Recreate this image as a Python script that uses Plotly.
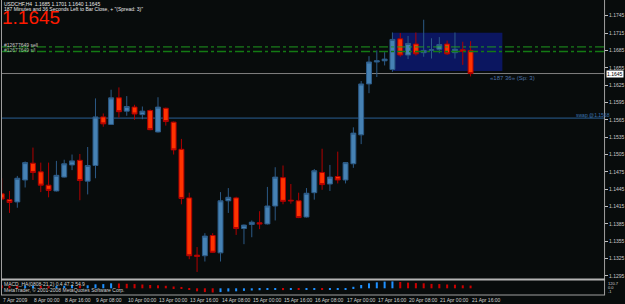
import plotly.graph_objects as go

W, H = 625, 304

# ---------------- data (USDCHF, H4) ----------------
bar_index = list(range(61))
opens = [1.1437, 1.1427, 1.1423, 1.1461, 1.1490, 1.1475, 1.1452, 1.1442, 1.1466, 1.1487,
         1.1495, 1.1459, 1.1486, 1.1570, 1.1557, 1.1603, 1.1580, 1.1587, 1.1574, 1.1581,
         1.1544, 1.1585, 1.1561, 1.1514, 1.1430, 1.1331, 1.1330, 1.1365, 1.1335, 1.1425,
         1.1430, 1.1377, 1.1384, 1.1387, 1.1385, 1.1416, 1.1465, 1.1426, 1.1425, 1.1397,
         1.1439, 1.1474, 1.1454, 1.1467, 1.1461, 1.1489, 1.1539, 1.1627, 1.1665, 1.1667,
         1.1652, 1.1705, 1.1677, 1.1696, 1.1681, 1.1685, 1.1687, 1.1696, 1.1681, 1.1686,
         1.1685]
highs = [1.1464, 1.1442, 1.1468, 1.1493, 1.1517, 1.1491, 1.1491, 1.1494, 1.1496, 1.1505,
         1.1506, 1.1518, 1.1602, 1.1576, 1.1617, 1.1621, 1.1606, 1.1591, 1.1588, 1.1583,
         1.1604, 1.1586, 1.1562, 1.1532, 1.1439, 1.1345, 1.1369, 1.1369, 1.1440, 1.1447,
         1.1432, 1.1384, 1.1391, 1.1407, 1.1449, 1.1483, 1.1486, 1.1454, 1.1439, 1.1447,
         1.1480, 1.1515, 1.1487, 1.1510, 1.1492, 1.1552, 1.1632, 1.1675, 1.1685, 1.1682,
         1.1716, 1.1715, 1.1710, 1.1716, 1.1738, 1.1706, 1.1708, 1.1702, 1.1716, 1.1700,
         1.1701]
lows = [1.1426, 1.1404, 1.1413, 1.1448, 1.1461, 1.1440, 1.1431, 1.1441, 1.1465, 1.1478,
        1.1426, 1.1436, 1.1464, 1.1553, 1.1556, 1.1569, 1.1572, 1.1565, 1.1566, 1.1547,
        1.1543, 1.1555, 1.1505, 1.1419, 1.1324, 1.1302, 1.1320, 1.1335, 1.1320, 1.1404,
        1.1366, 1.1350, 1.1362, 1.1376, 1.1384, 1.1391, 1.1419, 1.1420, 1.1395, 1.1396,
        1.1427, 1.1444, 1.1442, 1.1455, 1.1455, 1.1482, 1.1523, 1.1611, 1.1639, 1.1659,
        1.1648, 1.1674, 1.1670, 1.1676, 1.1674, 1.1671, 1.1680, 1.1677, 1.1671, 1.1660,
        1.1640]
closes = [1.1428, 1.1422, 1.1464, 1.1491, 1.1474, 1.1452, 1.1443, 1.1469, 1.1489, 1.1494,
          1.1460, 1.1486, 1.1570, 1.1558, 1.1603, 1.1579, 1.1588, 1.1575, 1.1580, 1.1548,
          1.1587, 1.1562, 1.1513, 1.1429, 1.1330, 1.1329, 1.1364, 1.1336, 1.1425, 1.1431,
          1.1377, 1.1383, 1.1388, 1.1385, 1.1416, 1.1466, 1.1424, 1.1425, 1.1396, 1.1438,
          1.1477, 1.1453, 1.1466, 1.1461, 1.1491, 1.1542, 1.1627, 1.1665, 1.1667, 1.1670,
          1.1704, 1.1677, 1.1697, 1.1679, 1.1685, 1.1686, 1.1695, 1.1679, 1.1687, 1.1683,
          1.1645]

# indicator histogram (sub-window)
indicator = [3.0, 2.5, 2.2, 2.6, 2.8, 2.4, 2.0, 2.2, 2.6, 3.0,
             2.8, 3.0, 4.0, 4.2, 5.0, 4.8, 4.5, 4.2, 3.8, 3.3,
             3.0, 2.5, 1.8, 0.5, -1.5, -3.0, -3.8, -4.2, -3.8, -3.2,
             -3.0, -2.6, -2.2, -1.9, -1.5, -1.0, -1.8, -1.6, -1.6, -1.4,
             -1.2, -1.2, -1.1, -1.0, -0.8, 1.5, 3.3, 5.0, 6.0, 6.7,
             6.9, 6.3, 5.7, 5.2, 5.0, 4.4, 4.2, 3.8, 3.6, 3.0, 2.7]

price_ticks = [1.1295, 1.1325, 1.1355, 1.1385, 1.1415, 1.1445, 1.1475, 1.1505,
               1.1535, 1.1565, 1.1595, 1.1625, 1.1655, 1.1685, 1.1715, 1.1745]
time_tick_index = [0, 4, 8, 12, 16, 20, 24, 28, 32, 36, 40, 44, 48, 52, 56, 60]
time_tick_labels = ["7 Apr 2009", "8 Apr 00:00", "8 Apr 16:00", "9 Apr 08:00",
                    "10 Apr 00:00", "13 Apr 00:00", "13 Apr 16:00", "14 Apr 08:00",
                    "15 Apr 00:00", "15 Apr 16:00", "16 Apr 08:00", "17 Apr 00:00",
                    "17 Apr 16:00", "20 Apr 08:00", "21 Apr 00:00", "21 Apr 16:00"]

bid_price = 1.1645
order_price = 1.1683
sl_price = 1.1691
swap_price = 1.1568
box_x = [50, 64.07]
box_y = [1.16494, 1.17156]
countdown_pos = (62.3, 1.1637)

# ---------------- helpers ----------------
def px_x(p):
    return p / W

def px_y(p):
    return 1 - p / H

BG = "#080c0c"
FONT = "Liberation Sans, Arial, sans-serif"

fig = go.Figure()

fig.add_trace(go.Candlestick(
    x=bar_index, open=opens, high=highs, low=lows, close=closes,
    increasing=dict(line=dict(color="#2c5a86", width=1), fillcolor="#4682b4"),
    decreasing=dict(line=dict(color="#b00000", width=1), fillcolor="#ff3300"),
    xaxis="x", yaxis="y", showlegend=False, hoverinfo="skip",
))

ind_colors = []
for i, v in enumerate(indicator):
    prev = indicator[i - 1] if i > 0 else v
    ind_colors.append("#1e90ff" if v > prev else "#cc0000")

fig.add_trace(go.Bar(
    x=bar_index, y=indicator, marker=dict(color=ind_colors, line=dict(width=0)),
    width=0.26, xaxis="x2", yaxis="y2", showlegend=False, hoverinfo="skip",
))

x_range = [-0.09, 77.08]
shapes = []
# rectangle (object)
shapes.append(dict(type="rect", xref="x", yref="y", x0=box_x[0], x1=box_x[1],
                   y0=box_y[0], y1=box_y[1], fillcolor="#0b1660",
                   line=dict(width=0), layer="below"))
# horizontal lines
shapes.append(dict(type="line", xref="paper", yref="y", x0=px_x(1), x1=px_x(606),
                   y0=bid_price, y1=bid_price, line=dict(color="#808080", width=1), layer="below"))
shapes.append(dict(type="line", xref="paper", yref="y", x0=px_x(1), x1=px_x(606),
                   y0=swap_price, y1=swap_price, line=dict(color="#2a5f94", width=1), layer="below"))
shapes.append(dict(type="line", xref="paper", yref="y", x0=px_x(1), x1=px_x(606),
                   y0=sl_price, y1=sl_price, line=dict(color="#1f9a1f", width=1, dash="dashdot")))
shapes.append(dict(type="line", xref="paper", yref="y", x0=px_x(1), x1=px_x(606),
                   y0=order_price, y1=order_price, line=dict(color="#137a13", width=1.5, dash="dashdot")))
# frame
frame = "#a0a0a0"
shapes += [
    dict(type="line", xref="paper", yref="paper", x0=px_x(1.5), x1=px_x(1.5), y0=px_y(0), y1=px_y(295),
         line=dict(color=frame, width=1)),
    dict(type="line", xref="paper", yref="paper", x0=px_x(606.5), x1=px_x(606.5), y0=px_y(0), y1=px_y(295),
         line=dict(color=frame, width=1)),
    dict(type="line", xref="paper", yref="paper", x0=px_x(1), x1=px_x(607), y0=px_y(279.5), y1=px_y(279.5),
         line=dict(color="#b4b4b4", width=2)),
    dict(type="line", xref="paper", yref="paper", x0=px_x(1), x1=px_x(607), y0=px_y(295), y1=px_y(295),
         line=dict(color=frame, width=1)),
]

ann = []
def text(x, y, s, size=5, color="#e0e0e0", xanchor="left", **kw):
    ann.append(dict(x=x, y=y, xref=kw.pop("xref", "paper"), yref=kw.pop("yref", "paper"),
                    text=s, showarrow=False, xanchor=xanchor, yanchor="middle",
                    font=dict(family=FONT, size=size, color=color), borderpad=0, **kw))

text(px_x(3), px_y(4), "USDCHF,H4  1.1685 1.1701 1.1640 1.1645", 5, "#e8e8e8")
text(px_x(3), px_y(9), "187 Minutes and 36 Seconds Left to Bar Close, + \"(Spread: 3)\"", 5, "#e8e8e8")
text(px_x(1), px_y(17.5), "1.1645", 19, "#ff1a00")
text(px_x(3), px_y(45), "#12677649 sell", 5, "#c8c8c8")
text(px_x(3), px_y(50), "#12677649 s/l", 5, "#9fc09f")
text(countdown_pos[0], countdown_pos[1], "\u00ab187 36\u00bb (Sp: 3)", 6, "#4f73a8", xref="x", yref="y")
text(px_x(577), px_y(115.5), "swap @1.1568", 5, "#3a72b0")
text(px_x(608), px_y(74), "1.1645", 5, "#000000", bgcolor="#ffffff")
text(px_x(3), px_y(284), "MACD_HA(0808-21,2) 0.4 47.2 54.9", 5, "#d0d0d0")
text(px_x(3), px_y(290), "MetaTrader, \u00a9 2001-2008 MetaQuotes Software Corp.", 5, "#d0d0d0")
text(px_x(609), px_y(283), "120.7", 4, "#d0d0d0")
text(px_x(609), px_y(287.5), "0.0", 4, "#d0d0d0")
text(px_x(609), px_y(291.5), "-1", 4, "#d0d0d0")
for xi, lab in zip(time_tick_index, time_tick_labels):
    text(xi, px_y(300), lab, 5, "#d0d0d0", xref="x2")

fig.update_layout(
    width=W, height=H, margin=dict(l=0, r=0, t=0, b=0),
    paper_bgcolor=BG, plot_bgcolor=BG, showlegend=False,
    boxgap=0.3, boxgroupgap=0.1,
    shapes=shapes, annotations=ann,
    xaxis=dict(domain=[px_x(1), px_x(606)], range=x_range, visible=False,
               rangeslider=dict(visible=False), fixedrange=True),
    yaxis=dict(domain=[px_y(279), px_y(1)], range=[1.12898, 1.17704], side="right",
               anchor="x", tickvals=price_ticks, tickformat=".4f", ticks="outside",
               ticklen=3, tickcolor="#c0c0c0", showgrid=False, zeroline=False,
               showline=False, tickfont=dict(family=FONT, size=5, color="#c8c8c8")),
    xaxis2=dict(domain=[px_x(1), px_x(606)], range=x_range, anchor="y2",
                showgrid=False, zeroline=False, showticklabels=False, showline=False,
                tickvals=time_tick_index, ticks="", fixedrange=True),
    yaxis2=dict(domain=[px_y(294), px_y(281)], range=[-5.7, 7.3], anchor="x2",
                visible=False, fixedrange=True),
)

fig.write_html("out.html")
